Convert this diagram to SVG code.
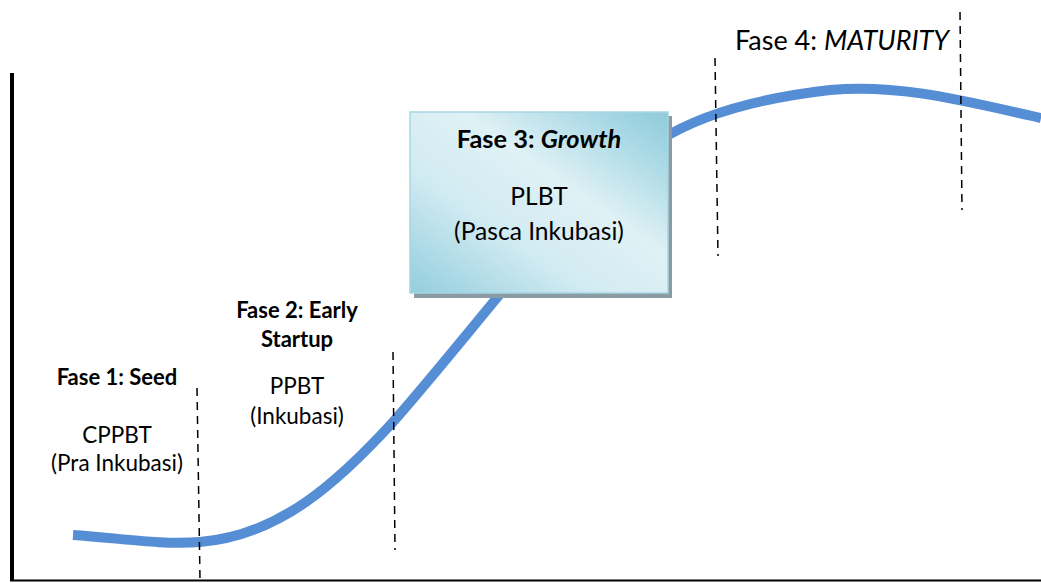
<svg xmlns="http://www.w3.org/2000/svg" width="1041" height="583" viewBox="0 0 1041 583">
<defs>
<linearGradient id="boxg2" x1="0" y1="1" x2="1" y2="0">
<stop offset="0" stop-color="#93cede"/>
<stop offset="0.35" stop-color="#d2ebf2"/>
<stop offset="0.6" stop-color="#dff1f5"/>
<stop offset="0.85" stop-color="#a9d9e5"/>
<stop offset="1" stop-color="#8fcadb"/>
</linearGradient>
</defs>
<style>
text{font-family:Lato,"Liberation Sans",sans-serif;fill:#000;font-size:22.5px;text-anchor:middle}
.b{font-weight:bold;font-size:22px}
.i{font-style:italic}
.big{font-size:24.6px}
.bigb{font-size:25.4px;font-weight:bold}
.dash{stroke:#000;stroke-width:1.5;stroke-dasharray:8,6;fill:none}
.axis{stroke:#000;fill:none}
</style>
<g id="axes">
<line class="axis" x1="12" y1="73" x2="12" y2="581" stroke-width="4"/>
<line class="axis" x1="10" y1="580.5" x2="1041" y2="580.5" stroke-width="2"/>
</g>
<g id="connectors">
<path d="M73,535 C120,538 160,545 200,542 C280,536 340,480 393,422 C430,380 470,330 520,270 M660,140 C700,115 760,98 830,90 C900,84 960,100 1041,118" fill="none" stroke="#558ed5" stroke-width="10"/>
</g>
<g id="dividers">
<line class="dash" x1="197" y1="388" x2="200" y2="580"/>
<line class="dash" x1="393" y1="352" x2="395" y2="550"/>
<line class="dash" x1="715" y1="58" x2="718" y2="256"/>
<line class="dash" x1="960" y1="12" x2="962" y2="210"/>
</g>
<g id="phase1">
<text class="b" x="117" y="385">Fase 1: Seed</text>
<text x="117" y="443">CPPBT</text>
<text x="117" y="471">(Pra Inkubasi)</text>
</g>
<g id="phase2">
<text class="b" x="297" y="318">Fase 2: Early</text>
<text class="b" x="297" y="347">Startup</text>
<text x="297" y="394">PPBT</text>
<text x="297" y="424">(Inkubasi)</text>
</g>
<g id="phase3">
<rect x="414" y="116" width="258" height="182" fill="#8a9ba3"/>
<rect x="410" y="112" width="258" height="181" fill="url(#boxg2)" stroke="#a6d6e3" stroke-width="1.5"/>
<text class="bigb" x="539" y="148">Fase 3: <tspan class="i">Growth</tspan></text>
<text class="big" x="539" y="205">PLBT</text>
<text class="big" x="539" y="240">(Pasca Inkubasi)</text>
</g>
<g id="phase4">
<text x="842" y="50" style="font-size:27px">Fase 4: <tspan class="i">MATURITY</tspan></text>
</g>
</svg>
